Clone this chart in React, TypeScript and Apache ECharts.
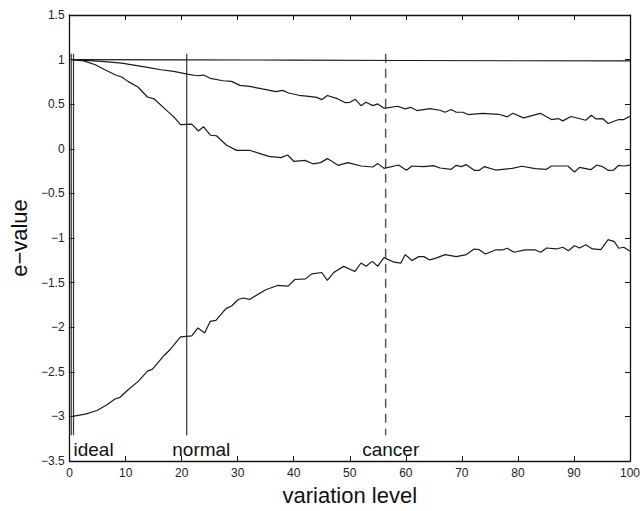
import React, { useEffect, useRef } from "react";
import * as echarts from "echarts";

// ---- data ----
const topLine: number[][] = [
  [0.5, 1.0], [20, 0.998], [40, 0.994], [60, 0.99], [80, 0.987], [100, 0.985],
];

const upperLine: number[][] = [
  [0.5, 1.0], [5.7, 0.98], [9.3, 0.96], [13.9, 0.912], [16.3, 0.886], [18.6, 0.867],
  [21, 0.838], [22.7, 0.819], [23.9, 0.827], [25.1, 0.79], [27.4, 0.763], [28.9, 0.756],
  [30.4, 0.711], [32.1, 0.7], [34.4, 0.671], [36.8, 0.641], [38, 0.655], [39.1, 0.626],
  [40.9, 0.6], [42.7, 0.588], [44.1, 0.577], [45, 0.551], [46, 0.598], [47.9, 0.559],
  [49.1, 0.518], [50, 0.521], [51, 0.555], [52, 0.484], [52.9, 0.521], [54.1, 0.484],
  [55, 0.503], [56.1, 0.454], [58.5, 0.477], [59.9, 0.447], [60.8, 0.465], [62, 0.429],
  [64.3, 0.451], [66.1, 0.432], [67, 0.41], [68.1, 0.44], [69, 0.41], [70.2, 0.41],
  [71.1, 0.384], [73.7, 0.398], [76.6, 0.387], [78.1, 0.358], [79.1, 0.398], [81, 0.347],
  [84, 0.398], [86, 0.328], [87.2, 0.339], [88, 0.313], [89.5, 0.362], [92.1, 0.32],
  [93.1, 0.376], [93.9, 0.336], [95.1, 0.339], [96.1, 0.283], [98, 0.328], [98.9, 0.328],
  [100, 0.365],
];

const middleLine: number[][] = [
  [0.5, 1.0], [2.5, 0.985], [4.6, 0.942], [6.3, 0.886], [8.1, 0.83], [9.3, 0.805],
  [10.4, 0.756], [12.2, 0.693], [13.9, 0.581], [15.1, 0.559], [17.5, 0.42], [18.6, 0.358],
  [19.8, 0.272], [21.8, 0.276], [23, 0.2], [23.9, 0.248], [25.1, 0.152], [26.2, 0.146],
  [28, 0.04], [29.8, -0.018], [32.1, -0.016], [34.4, -0.063], [35.6, -0.085], [37.7, -0.099],
  [38.9, -0.07], [40, -0.14], [42, -0.13], [43.4, -0.168], [44.8, -0.155], [46, -0.11],
  [47.9, -0.185], [49.7, -0.155], [52, -0.193], [54.1, -0.204], [55, -0.166], [56.1, -0.219],
  [58.7, -0.182], [60.1, -0.241], [61.1, -0.193], [63.2, -0.2], [64.9, -0.189], [66.1, -0.215],
  [68.1, -0.23], [69, -0.185], [69.9, -0.2], [70.8, -0.178], [72.2, -0.241], [73.1, -0.241],
  [74, -0.2], [76, -0.238], [79, -0.219], [80.7, -0.196], [83.1, -0.222], [85.1, -0.23],
  [86, -0.193], [88.9, -0.193], [90.1, -0.26], [91, -0.208], [93, -0.234], [94.1, -0.182],
  [95.1, -0.2], [96.1, -0.241], [97.1, -0.238], [98, -0.185], [98.9, -0.193], [100, -0.182],
];

const bottomLine: number[][] = [
  [0.5, -3.0], [2.8, -2.975], [4.9, -2.934], [6.6, -2.872], [8.1, -2.805], [9, -2.786],
  [10.4, -2.704], [12.2, -2.61], [13.9, -2.492], [14.8, -2.47], [16.9, -2.314], [18, -2.247],
  [19.8, -2.108], [21.8, -2.097], [22.9, -2.008], [24.1, -2.064], [25.1, -1.934], [26.1, -1.923],
  [27.9, -1.792], [28.9, -1.762], [30.1, -1.689], [31, -1.673], [32.1, -1.689], [35, -1.58],
  [37.1, -1.532], [39, -1.539], [40.2, -1.465], [42.1, -1.458], [43.2, -1.402], [45, -1.387],
  [46, -1.476], [47.2, -1.383], [48.9, -1.318], [50.9, -1.376], [52, -1.28], [52.9, -1.316],
  [54, -1.262], [55, -1.316], [56.1, -1.22], [57.9, -1.271], [59.1, -1.282], [59.9, -1.186],
  [61.1, -1.253], [62.3, -1.209], [63.2, -1.209], [64.3, -1.246], [65.5, -1.223], [67, -1.186],
  [69, -1.209], [70.8, -1.186], [72.2, -1.123], [73.1, -1.131], [74.2, -1.179], [76, -1.134],
  [77.2, -1.134], [78.1, -1.115], [79.3, -1.16], [81.3, -1.134], [83.1, -1.134], [84.1, -1.16],
  [85.1, -1.112], [86.9, -1.123], [88, -1.104], [89, -1.142], [90.1, -1.086], [91, -1.112],
  [92.1, -1.075], [93.3, -1.123], [94.8, -1.131], [96.1, -1.019], [97.2, -1.041], [98, -1.115],
  [98.9, -1.104], [100, -1.149],
];

// vertical marker lines: x position, top and bottom value
const markerNames = ["ideal", "ideal", "normal", "cancer"];
const markerX = [0.3, 0.7, 20.9, 56.4];
const markerTop = 1.065;
const markerBottom = -3.21;
const markerDashed = [false, false, false, true];

// marker text labels
const labelTexts = ["ideal", "normal", "cancer"];
const labelPos: number[][] = [
  [0.7, -3.37],
  [23.5, -3.37],
  [57.3, -3.37],
];

const xMin = 0, xMax = 100, xStep = 10;
const yMin = -3.5, yMax = 1.5, yStep = 0.5;

const FONT = "'Liberation Sans', Arial, Helvetica, sans-serif";

export default function App() {
  const ref = useRef<HTMLDivElement>(null);
  useEffect(() => {
    if (!ref.current) return;
    const chart = echarts.init(ref.current, undefined, { renderer: "svg" });
    const lineStyle = { color: "#1a1a1a", width: 1.2 };
    const dataSeries = [topLine, upperLine, middleLine, bottomLine].map((d) => ({
      type: "line",
      data: d,
      showSymbol: false,
      symbol: "none",
      lineStyle,
      z: 3,
    }));
    const markerSeries = markerX.map((x, i) => ({
      type: "line",
      name: markerNames[i],
      data: [[x, markerTop], [x, markerBottom]],
      showSymbol: false,
      symbol: "none",
      lineStyle: {
        color: markerDashed[i] ? "#555" : "#333",
        width: markerDashed[i] ? 1.5 : 1.2,
        type: markerDashed[i] ? [9, 6] : "solid",
      },
      z: 2,
    }));
    const minus = (v: number) => String(v).replace("-", "\u2212");
    const axisCommon = {
      min: xMin,
      max: xMax,
      interval: xStep,
    };
    const option: any = {
      animation: false,
      backgroundColor: "#fff",
      grid: { left: 64, right: 10, top: 15, bottom: 48, containLabel: false },
      xAxis: [
        {
          type: "value",
          ...axisCommon,
          position: "bottom",
          name: "variation level",
          nameLocation: "middle",
          nameGap: 23,
          nameTextStyle: { fontFamily: FONT, fontSize: 22, color: "#111" },
          axisLine: { show: true, onZero: false, lineStyle: { color: "#111", width: 1.3 } },
          axisTick: { show: true, inside: true, length: 5, lineStyle: { color: "#111" } },
          axisLabel: { fontFamily: FONT, fontSize: 12, color: "#222", margin: 6 },
          splitLine: { show: false },
        },
        {
          type: "value",
          ...axisCommon,
          position: "top",
          axisLine: { show: true, onZero: false, lineStyle: { color: "#111", width: 1.3 } },
          axisTick: { show: true, inside: true, length: 5, lineStyle: { color: "#111" } },
          axisLabel: { show: false },
          splitLine: { show: false },
        },
      ],
      yAxis: [
        {
          type: "value",
          min: yMin,
          max: yMax,
          interval: yStep,
          position: "left",
          name: "e\u2212value",
          nameLocation: "middle",
          nameGap: 38,
          nameTextStyle: { fontFamily: FONT, fontSize: 22, color: "#111" },
          axisLine: { show: true, onZero: false, lineStyle: { color: "#111", width: 1.3 } },
          axisTick: { show: true, inside: true, length: 5, lineStyle: { color: "#111" } },
          axisLabel: { fontFamily: FONT, fontSize: 12, color: "#222", margin: 5, formatter: minus },
          splitLine: { show: false },
        },
        {
          type: "value",
          min: yMin,
          max: yMax,
          interval: yStep,
          position: "right",
          axisLine: { show: true, onZero: false, lineStyle: { color: "#111", width: 1.3 } },
          axisTick: { show: true, inside: true, length: 5, lineStyle: { color: "#111" } },
          axisLabel: { show: false },
          splitLine: { show: false },
        },
      ],
      series: [
        ...markerSeries,
        ...dataSeries,
        {
          type: "scatter",
          symbolSize: 0,
          itemStyle: { opacity: 1, color: "#111" },
          data: labelPos.map((p, i) => ({ value: p, name: labelTexts[i] })),
          label: {
            show: true,
            formatter: (p: any) => p.name,
            fontFamily: FONT,
            fontSize: 19,
            color: "#111",
            opacity: 1,
            position: "inside",
            align: "center",
            verticalAlign: "middle",
          },
          z: 4,
        },
      ],
    };
    // "ideal" label is left-aligned at its anchor
    option.series[option.series.length - 1].data[0].label = { align: "left" };
    chart.setOption(option);
    return () => chart.dispose();
  }, []);
  return (
    <div
      ref={ref}
      style={{ position: "fixed", left: 0, top: 0, width: 643, height: 511 }}
    />
  );
}
